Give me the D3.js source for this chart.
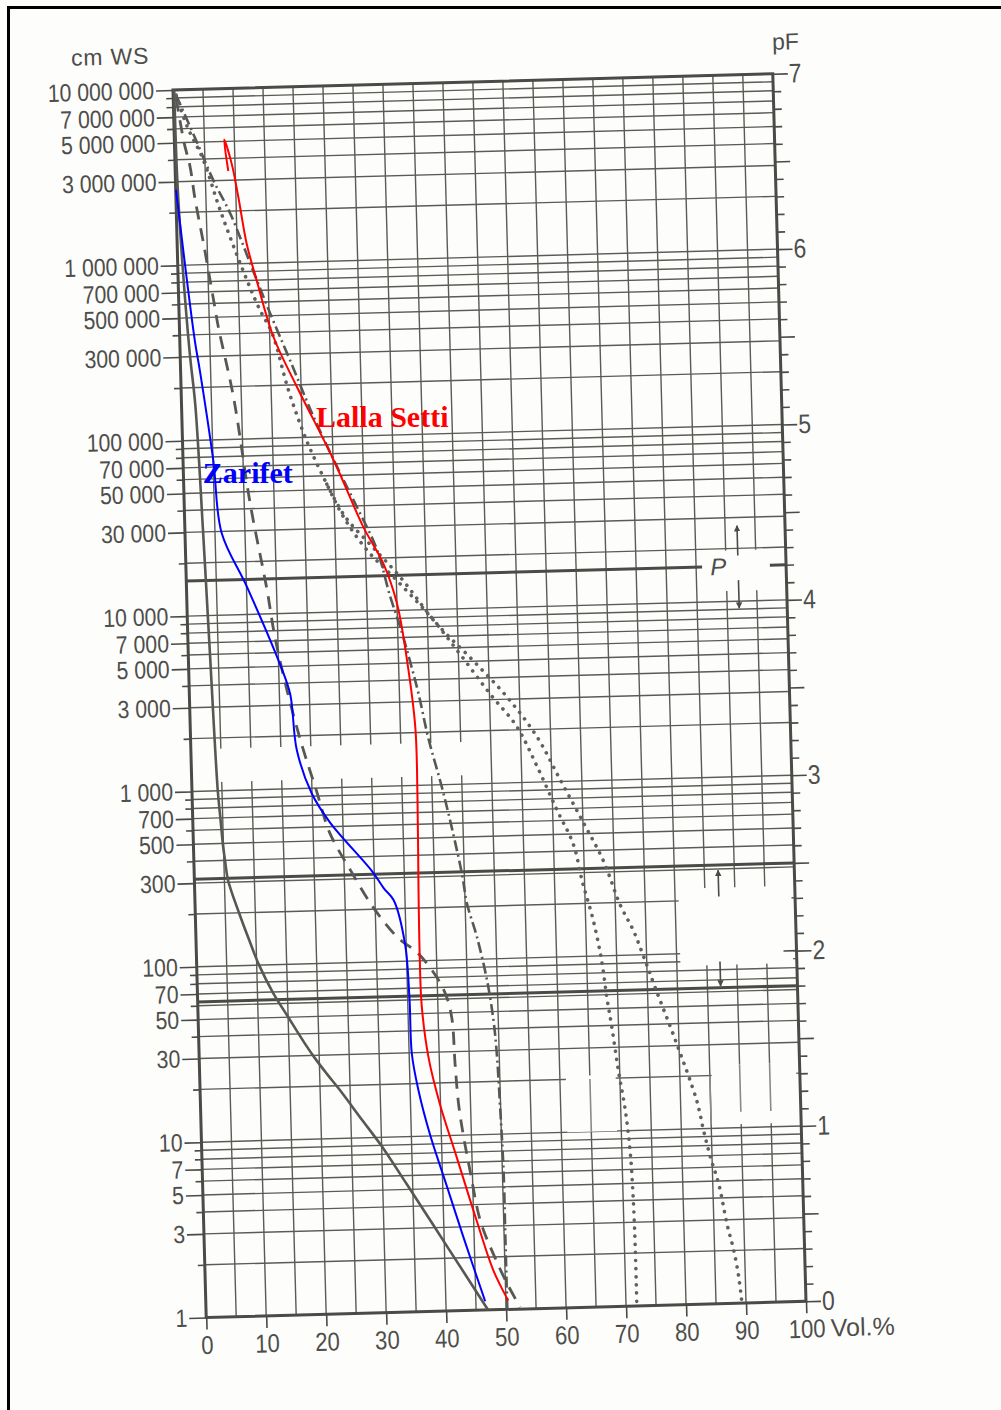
<!DOCTYPE html>
<html><head><meta charset="utf-8">
<script src="https://cdn.jsdelivr.net/npm/d3@7"></script>
<style>
html,body{margin:0;padding:0;background:#fdfdfb;}
svg{display:block;}
</style></head><body>
<svg id="chart" width="1001" height="1410"></svg>
<script>
// ---------------- data ----------------
// x: volumetric water content (Vol.%), y: pF (= log10 cm WS)
const solidPct = [0.2, 0.3, 0.8, 1.6, 2.3, 3.0, 3.6, 4.3, 4.6, 4.9, 5.2, 5.6, 7.3, 8.8, 10.4, 12.6, 15.0, 17.6, 19.3, 21.2, 23.2, 26.9, 29.8, 34.0, 40.6, 47.0];
const solidPF  = [7.0, 6.5, 6.0, 5.5, 5.2, 4.5, 3.8, 3.0, 2.85, 2.7, 2.6, 2.49, 2.30, 2.15, 2.0, 1.84, 1.70, 1.55, 1.46, 1.37, 1.28, 1.10, 0.96, 0.73, 0.36, 0.0];

const dashPct = [0.5, 1.6, 2.5, 3.2, 4.4, 5.8, 6.5, 8.7, 11.0, 13.4, 14.5, 16.3, 18.5, 20.7, 22.8, 26.0, 29.7, 33.5, 37.0, 40.0, 41.5, 42.3, 42.6, 43.0, 43.7, 44.6, 46.1, 48.1, 50.25, 52.35];
const dashPF  = [6.95, 6.70, 6.56, 6.37, 6.12, 5.80, 5.64, 5.24, 4.63, 4.14, 3.87, 3.56, 3.25, 2.99, 2.74, 2.53, 2.31, 2.14, 2.04, 1.90, 1.79, 1.66, 1.41, 1.18, 0.99, 0.80, 0.51, 0.32, 0.15, 0.01];

const dashDotPct = [0.5, 3.5, 6.3, 8.95, 12.3, 15.2, 18.3, 21.9, 25.6, 28.7, 31.9, 33.9, 35.4, 36.9, 38.2, 39.6, 41.9, 44.6, 45.3, 46.8, 48.3, 49.2, 49.6, 49.9, 50.2, 50.2, 50.2];
const dashDotPF  = [6.97, 6.72, 6.48, 6.29, 5.98, 5.71, 5.44, 5.12, 4.83, 4.60, 4.35, 4.08, 3.91, 3.71, 3.52, 3.27, 2.95, 2.49, 2.32, 2.13, 1.88, 1.65, 1.46, 1.17, 0.79, 0.41, 0.0];

const dotAPct = [0.5, 2.2, 4.7, 7.3, 10.65, 13.4, 15.4, 17.9, 20.7, 23.85, 26.5, 30.2, 35.1, 40.5, 45.3, 50.1, 54.4, 57.6, 60.7, 63.3, 64.6, 66.3, 67.5, 68.2, 68.9, 69.8, 70.75, 71.4, 71.7, 71.8, 71.8];
const dotAPF  = [6.97, 6.79, 6.60, 6.31, 5.98, 5.74, 5.60, 5.27, 4.98, 4.73, 4.54, 4.35, 4.17, 3.96, 3.74, 3.51, 3.32, 3.09, 2.84, 2.64, 2.43, 2.20, 1.97, 1.76, 1.59, 1.34, 1.12, 0.87, 0.58, 0.30, 0.01];

const dotBPct = [23.85, 26.8, 30.8, 35.65, 41.5, 47.5, 52.9, 57.7, 61.4, 65.1, 68.25, 70.8, 72.9, 74.5, 76.3, 79.4, 82.7, 83.7, 84.7, 86.0, 87.2, 88.2, 88.9, 89.3];
const dotBPF  = [4.73, 4.54, 4.38, 4.19, 3.92, 3.70, 3.49, 3.26, 3.01, 2.76, 2.54, 2.29, 2.14, 1.99, 1.81, 1.51, 1.16, 0.99, 0.84, 0.68, 0.45, 0.30, 0.15, 0.01];

const zarifetPct = [0.05, 2.5, 3.2, 5.05, 6.1, 10.05, 15.25, 16.8, 17.65, 19.95, 22.9, 29.6, 31.5, 33.1, 34.8, 35.3, 35.45, 36.4, 38.1, 40.7, 43.2, 46.55];
const zarifetPF  = [6.43, 5.57, 5.40, 4.88, 4.47, 4.16, 3.71, 3.54, 3.22, 2.97, 2.80, 2.52, 2.42, 2.35, 2.10, 1.79, 1.47, 1.26, 1.01, 0.71, 0.42, 0.05];

const lallaPct = [8.85, 8.3, 9.45, 10.4, 11.6, 13.1, 15.6, 19.3, 25.05, 29.75, 32.9, 35.0, 36.4, 37.5, 37.55, 37.3, 37.2, 37.3, 38.2, 39.9, 42.5, 45.5, 48.1, 50.4];
const lallaPF  = [6.53, 6.71, 6.57, 6.38, 6.11, 5.90, 5.58, 5.29, 4.87, 4.48, 4.27, 4.04, 3.72, 3.33, 2.95, 2.41, 2.04, 1.75, 1.45, 1.18, 0.87, 0.51, 0.22, 0.05];

const seriesNames = ["Zarifet", "Lalla Setti"];
const xTicks = [0, 10, 20, 30, 40, 50, 60, 70, 80, 90, 100];
const cmLabels = [1, 3, 5, 7, 10, 30, 50, 70, 100, 300, 500, 700, 1000, 3000, 5000, 7000, 10000, 30000, 50000, 70000, 100000, 300000, 500000, 700000, 1000000, 3000000, 5000000, 7000000, 10000000];
const pFLabels = [0, 1, 2, 3, 4, 5, 6, 7];
const markPF = [4.2, 2.5, 1.8];   // P line, 300 cm, 60 cm

// ---------------- layout ----------------
const svg = d3.select("#chart");
const plotW = 600, plotH = 1228;
const x = d3.scaleLinear().domain([0, 100]).range([0, plotW]);
const yPF = d3.scaleLinear().domain([0, 7]).range([plotH, 0]);
const yCm = d3.scaleLog().domain([1, 1e7]).range([plotH, 0]);
const ink = "#4e4e4b";
const font = "'Liberation Sans', Arial, sans-serif";
const bg = "#fdfdfb";

svg.append("rect").attr("x", 8.5).attr("y", 7.5).attr("width", 1000).attr("height", 1410)
  .attr("fill", "none").attr("stroke", "#000").attr("stroke-width", 3);

const g = svg.append("g").attr("transform", "translate(173,90) rotate(-1.55)");

// grid
const minorCm = [];
for (let k = 0; k < 7; k++) for (let m = 1; m <= 9; m++) minorCm.push(m * Math.pow(10, k));
minorCm.push(1e7);
const vGrid = d3.range(0, 101, 5);

const grid = g.append("g").attr("stroke", "#5a5a56").attr("stroke-width", 1.4);
grid.selectAll(".v").data(vGrid).join("line")
  .attr("x1", d => x(d)).attr("x2", d => x(d)).attr("y1", 0).attr("y2", plotH);
grid.selectAll(".h").data(minorCm).join("line")
  .attr("x1", 0).attr("x2", plotW).attr("y1", d => yCm(d)).attr("y2", d => yCm(d));

// erased areas of the scan: [x0, x1, pF0, pF1]
const erased = [[87, 99.3, 4.06, 4.29], [80.6, 99.4, 1.93, 2.37], [3, 47, 3.05, 3.24], [61, 69.3, 1.0, 1.32], [85.3, 99.4, 1.02, 1.36]];
g.selectAll(".erase").data(erased).join("rect")
  .attr("x", d => x(d[0])).attr("width", d => x(d[1]) - x(d[0]))
  .attr("y", d => yPF(d[3])).attr("height", d => yPF(d[2]) - yPF(d[3])).attr("fill", bg);
// light redrawn grid segments inside the erased boxes: [x, pF0, pF1]
const redrawn = [[65, 1.0, 1.3], [85, 1.02, 1.3], [90, 1.09, 1.36], [95, 1.09, 1.36]];
g.selectAll(".redraw").data(redrawn).join("line")
  .attr("x1", d => x(d[0])).attr("x2", d => x(d[0])).attr("y1", d => yPF(d[1])).attr("y2", d => yPF(d[2]))
  .attr("stroke", "#8a8a88").attr("stroke-width", 1.6);

// special thick lines
const thick = g.append("g").attr("stroke", "#4a4a47").attr("stroke-width", 3);
thick.append("line").attr("x1", 0).attr("x2", x(86)).attr("y1", yPF(markPF[0])).attr("y2", yPF(markPF[0]));
thick.append("line").attr("x1", x(97.3)).attr("x2", x(100)).attr("y1", yPF(markPF[0])).attr("y2", yPF(markPF[0]));
thick.append("line").attr("x1", 0).attr("x2", plotW).attr("y1", yPF(markPF[1])).attr("y2", yPF(markPF[1]));
thick.append("line").attr("x1", 0).attr("x2", plotW).attr("y1", yPF(markPF[2])).attr("y2", yPF(markPF[2]));

g.append("text").attr("x", x(88.7)).attr("y", yPF(4.2)).attr("dy", "0.35em")
  .attr("text-anchor", "middle").attr("font-family", font).attr("font-style", "italic")
  .attr("font-size", 24).attr("fill", ink).text("P");

// arrows
const defs = svg.append("defs");
defs.append("marker").attr("id", "ah").attr("viewBox", "0 0 10 10").attr("refX", 9).attr("refY", 5)
  .attr("markerWidth", 4).attr("markerHeight", 5).attr("orient", "auto")
  .append("path").attr("d", "M0,0 L10,5 L0,10 Z").attr("fill", "#4a4a47");
const arrows = [[92, 4.26, 4.43], [92, 4.12, 3.96], [87.3, 2.32, 2.47], [87.2, 1.95, 1.81]];
g.selectAll(".arrow").data(arrows).join("line")
  .attr("x1", d => x(d[0])).attr("x2", d => x(d[0]))
  .attr("y1", d => yPF(d[1])).attr("y2", d => yPF(d[2]))
  .attr("stroke", "#4a4a47").attr("stroke-width", 1.6).attr("marker-end", "url(#ah)");

// frame
g.append("rect").attr("x", 0).attr("y", 0).attr("width", plotW).attr("height", plotH)
  .attr("fill", "none").attr("stroke", "#4a4a47").attr("stroke-width", 3);

// axes
const squeeze = 0.85;
function styleAxis(sel, size) {
  sel.select(".domain").remove();
  sel.selectAll("line").attr("stroke", "#4a4a47").attr("stroke-width", 1.6);
  sel.selectAll("text").attr("font-family", font).attr("font-size", size).attr("fill", ink)
    .each(function () {
      const t = d3.select(this);
      t.attr("x", (+t.attr("x") || 0) / squeeze).attr("transform", `scale(${squeeze},1)`);
    });
}
const leftMinor = g.append("g").call(d3.axisLeft(yCm).tickValues(minorCm.filter(v => !cmLabels.includes(v))).tickSize(7).tickFormat(""));
styleAxis(leftMinor, 25);
const leftMajor = g.append("g").call(d3.axisLeft(yCm).tickValues(cmLabels).tickSize(17).tickPadding(2)
  .tickFormat(d => d3.format(",")(d).replace(/,/g, " ")));
styleAxis(leftMajor, 25);

const rMinor = g.append("g").attr("transform", `translate(${plotW},0)`)
  .call(d3.axisRight(yPF).tickValues(d3.range(0, 70).map(i => i / 10).filter(v => Math.abs(v * 2 - Math.round(v * 2)) > 1e-6)).tickSize(8).tickFormat(""));
styleAxis(rMinor, 25);
const rHalf = g.append("g").attr("transform", `translate(${plotW},0)`)
  .call(d3.axisRight(yPF).tickValues(d3.range(0.5, 7, 1)).tickSize(15).tickFormat(""));
styleAxis(rHalf, 25);
const rMajor = g.append("g").attr("transform", `translate(${plotW},0)`)
  .call(d3.axisRight(yPF).tickValues(pFLabels).tickSize(15).tickPadding(1).tickFormat(d3.format("d")));
styleAxis(rMajor, 27);
// pF 2 tick also reaches inside the frame
g.append("line").attr("x1", plotW - 13).attr("x2", plotW).attr("y1", yPF(2)).attr("y2", yPF(2))
  .attr("stroke", "#4a4a47").attr("stroke-width", 1.6);

const bottom = g.append("g").attr("transform", `translate(0,${plotH})`)
  .call(d3.axisBottom(x).tickValues(xTicks).tickSize(12).tickPadding(6).tickFormat(d3.format("d")));
styleAxis(bottom, 26);

g.append("text").attr("x", x(100) + 24).attr("y", plotH + 18).attr("dy", "0.71em")
  .attr("font-family", font).attr("font-size", 25).attr("fill", ink).text("Vol.%");
g.append("text").attr("x", -62).attr("y", -27).attr("text-anchor", "middle")
  .attr("font-family", font).attr("font-size", 23).attr("fill", ink).attr("letter-spacing", "0.8px").text("cm WS");
g.append("text").attr("x", plotW).attr("y", -24).attr("font-family", font)
  .attr("font-size", 23).attr("fill", ink).text("pF");

// curves
const line = d3.line().x(d => x(d[0])).y(d => yPF(d[1])).curve(d3.curveCatmullRom.alpha(0.5));
function curve(px, pv, stroke, width, dash, cap) {
  return g.append("path").datum(d3.zip(px, pv)).attr("d", line)
    .attr("fill", "none").attr("stroke", stroke).attr("stroke-width", width)
    .attr("stroke-dasharray", dash || null).attr("stroke-linecap", cap || "butt");
}
curve(solidPct, solidPF, "#575754", 2.6);
curve(dashPct, dashPF, "#575754", 2.8, "13,9");
curve(dashDotPct, dashDotPF, "#575754", 2.6, "11,4,2,4");
curve(dotAPct, dotAPF, "#606060", 3.6, "0.1,8", "round");
curve(dotBPct, dotBPF, "#606060", 3.6, "0.1,8", "round");
curve(zarifetPct, zarifetPF, "#0000ff", 2);
curve(lallaPct, lallaPF, "#ff0000", 2);

// series labels (added digitally, horizontal)
const labels = [
  {name: seriesNames[0], pct: 3.2, pf: 4.755, color: "#0000ff"},
  {name: seriesNames[1], pct: 22.3, pf: 5.056, color: "#ff0000"}
];
g.selectAll(".lab").data(labels).join("text")
  .attr("transform", d => `translate(${x(d.pct)},${yPF(d.pf)}) rotate(1.55)`)
  .attr("font-family", "'Liberation Serif', 'DejaVu Serif', serif").attr("font-weight", "bold")
  .attr("font-size", 30).attr("fill", d => d.color).text(d => d.name);
</script>
</body></html>
